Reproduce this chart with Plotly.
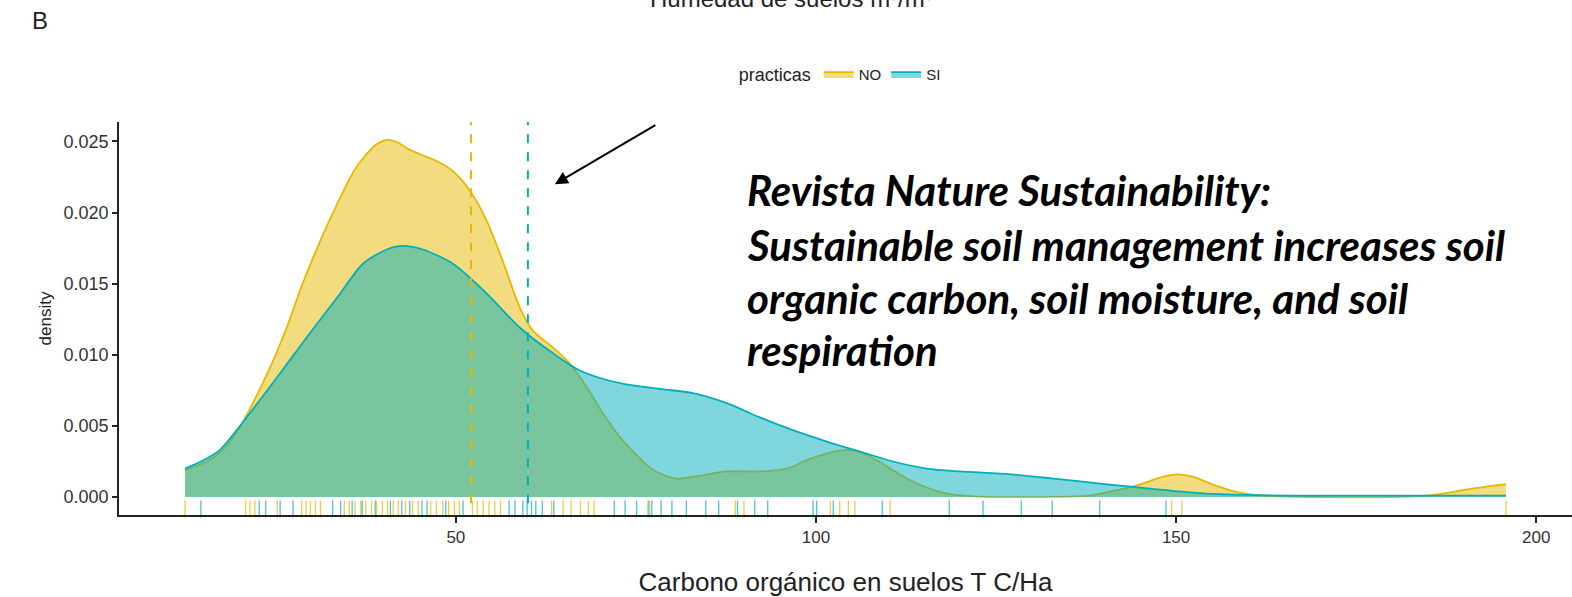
import plotly.graph_objects as go

# ---------------- data ----------------
no_x = [12.4, 15, 17.2, 19.5, 21.4, 24.2, 26.5, 28.8, 32.5, 36.2, 39, 40.6, 42, 43.6, 47.4, 49.6,
        52, 54.3, 56.5, 58.9, 60.7, 63.5, 65.8, 68.2, 70.4, 72.8, 75, 77.4, 80.6, 83.9, 87.6, 92.2,
        96, 99.2, 103.8, 106, 108.4, 113, 117.7, 122, 130, 137.9, 141, 145, 148, 150.2, 152.5, 155,
        158, 162, 170, 180, 185, 190, 194, 195.8]
no_y = [0.0019, 0.0024, 0.0031, 0.0045, 0.0062, 0.0091, 0.0119, 0.0151, 0.0195, 0.0232, 0.0248, 0.0251,
        0.0249, 0.0244, 0.0236, 0.0229, 0.0215, 0.0194, 0.0166, 0.0133, 0.0117, 0.0105, 0.0094, 0.0077,
        0.0059, 0.0042, 0.0030, 0.0019, 0.0013, 0.0015, 0.0018, 0.0018, 0.0020, 0.0027, 0.0033, 0.0032,
        0.0026, 0.0012, 0.0003, 0.00005, 0.0, 0.0001, 0.0004, 0.0009, 0.0014, 0.0016, 0.0014, 0.0009,
        0.0004, 0.0001, 0.0, 0.0, 0.0001, 0.0005, 0.0008, 0.0009]

si_x = [12.4, 15, 17.2, 21.4, 25.6, 29.7, 33.5, 37.1, 40.4, 42.6, 45.4, 49.6, 54.3, 58.9, 63.5, 67.2,
        72.8, 78.3, 82.9, 87.6, 92.2, 96.8, 101.5, 106.1, 110.7, 115.4, 120, 127, 133, 140.4, 146.4,
        152.8, 160, 170, 185, 195.8]
si_y = [0.0020, 0.0026, 0.0033, 0.0059, 0.0087, 0.0115, 0.0140, 0.0164, 0.0174, 0.01765, 0.0174, 0.0164,
        0.0143, 0.0119, 0.0101, 0.0089, 0.0080, 0.0076, 0.0073, 0.0066, 0.0056, 0.0047, 0.0039, 0.0032,
        0.0025, 0.0020, 0.0018, 0.0016, 0.0013, 0.0009, 0.0006, 0.0003, 0.00015, 0.0001, 0.0001, 0.0001]

rug_no = [12.4, 20.8, 21.4, 22.1, 25.2, 28.6, 29.2, 29.8, 30.5, 31.2, 34.5, 35.2, 36.0, 36.8, 37.5, 38.3,
          39.0, 39.8, 40.5, 41.3, 42.0, 43.0, 44.0, 44.8, 46.5, 47.3, 48.2, 49.0, 49.8, 50.5, 52.3, 53.0,
          53.8, 54.6, 55.4, 56.2, 63.3, 64.9, 66.0, 67.3, 68.4, 69.2, 76.9, 88.8, 90.0, 102.0, 103.3,
          104.5, 105.4, 110.3, 149.4, 150.8, 195.8]
rug_si = [14.6, 22.7, 23.6, 25.6, 27.4, 32.9, 34.0, 35.6, 37.0, 38.8, 40.9, 42.5, 43.6, 45.3, 46.0, 48.6,
          51.0, 57.4, 58.2, 59.3, 59.9, 60.5, 61.1, 62.0, 63.6, 72.0, 73.5, 75.1, 76.7, 77.2, 78.5, 80.0,
          82.0, 84.7, 86.5, 89.1, 91.5, 93.3, 99.6, 100.1, 102.4, 109.2, 118.5, 123.2, 128.5, 132.8,
          139.4, 148.6]

mean_no = 52.1
mean_si = 60.0

groups = ["NO", "SI"]
colors = {"NO": "#E7B800", "SI": "#00AFBB"}
fills = {"NO": "rgba(231,184,0,0.5)", "SI": "rgba(0,175,187,0.5)"}

x_ticks = [50, 100, 150, 200]
y_ticks = [0.0, 0.005, 0.010, 0.015, 0.020, 0.025]

annot_lines = ["Revista Nature Sustainability:",
               "Sustainable soil management increases soil",
               "organic carbon, soil moisture, and soil",
               "respiration"]

# ---------------- figure ----------------
fig = go.Figure()
curves = {"NO": (no_x, no_y), "SI": (si_x, si_y)}
for g in groups:
    xs, ys = curves[g]
    fig.add_trace(go.Scatter(x=xs, y=ys, name=g, mode="lines",
                             line=dict(color=colors[g], width=1.8, shape="spline", smoothing=0.8),
                             fill="tozeroy", fillcolor=fills[g]))

rugs = {"NO": rug_no, "SI": rug_si}
for g in groups:
    fig.add_trace(go.Scatter(x=rugs[g], y=[-0.00084] * len(rugs[g]), mode="markers",
                             showlegend=False, cliponaxis=False,
                             marker=dict(symbol="line-ns", size=12,
                                         line=dict(color=colors[g], width=1.3)),
                             opacity=0.7))

for m, g in [(mean_no, "NO"), (mean_si, "SI")]:
    fig.add_shape(type="line", xref="x", yref="y domain", x0=m, x1=m, y0=0.03, y1=1,
                  line=dict(color=colors[g], width=2, dash="dash"))

fig.update_layout(
    width=1572, height=597,
    margin=dict(l=119, r=0, t=122, b=82),
    paper_bgcolor="white", plot_bgcolor="white",
    font=dict(family="Liberation Sans, Arial, sans-serif", color="#222222"),
    showlegend=True,
    legend=dict(orientation="h", x=0.497, xanchor="center", y=1.12, yanchor="middle",
                title=dict(text="practicas", font=dict(size=18)),
                font=dict(size=15), bgcolor="rgba(0,0,0,0)", itemwidth=30),
    xaxis=dict(range=[3.23, 204.97], tickvals=x_ticks, ticks="outside", ticklen=6,
               tickwidth=1.5, tickcolor="#222", showline=True, linecolor="#222", linewidth=1.8,
               showgrid=False, zeroline=False, tickfont=dict(size=17, color="#333"),
               automargin=False,
               title=dict(text="Carbono orgánico en suelos T C/Ha", font=dict(size=26, color="#222"),
                          standoff=28)),
    yaxis=dict(range=[-0.00126, 0.02636], tickvals=y_ticks, tickformat=".3f", ticks="outside",
               ticklen=5, tickwidth=1.5, tickcolor="#222", showline=True, linecolor="#222",
               linewidth=1.8, showgrid=False, zeroline=False, tickfont=dict(size=18, color="#333"),
               automargin=False,
               title=dict(text="density", font=dict(size=17, color="#222"), standoff=8)),
)

# panel label and cut-off top title
fig.add_annotation(text="B", xref="paper", yref="paper", x=(40 - 119) / 1453, y=1 + (122 - 20) / 393,
                   showarrow=False, font=dict(size=24, color="#222"), xanchor="center", yanchor="middle")
fig.add_annotation(text="Humedad de suelos m³/m³", xref="paper", yref="paper",
                   x=(791 - 119) / 1453, y=1 + (122 + 2) / 393, showarrow=False,
                   font=dict(size=24, color="#222"), xanchor="center", yanchor="middle")

# arrow
fig.add_annotation(x=63.75, y=0.02199, xref="x", yref="y", ax=102, ay=-60, text="",
                   showarrow=True, arrowhead=2, arrowsize=1.3, arrowwidth=2, arrowcolor="black")

# italic bold text block
line_y_px = [190, 245, 298, 350]
for t, ypx in zip(annot_lines, line_y_px):
    fig.add_annotation(text="<b><i>" + t + "</i></b>", xref="paper", yref="paper",
                       x=(745 - 119) / 1453, y=1 - (ypx - 122) / 393, xanchor="left", yanchor="middle",
                       showarrow=False, font=dict(family="Lato, Open Sans, sans-serif", size=42,
                                                  color="black"))

fig.write_html("out.html", config={"displayModeBar": False},
               post_script="document.body.style.margin='0';document.body.style.overflow='hidden';")
